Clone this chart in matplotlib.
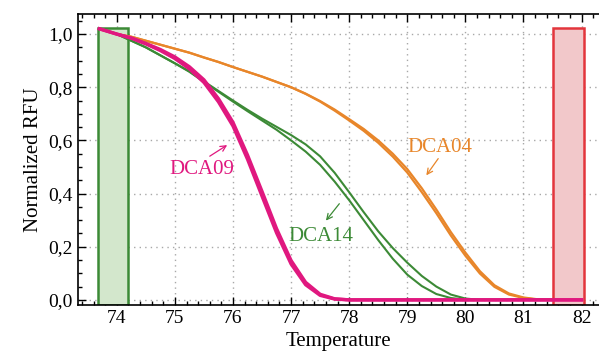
import matplotlib.pyplot as plt
import numpy as np

plt.rcParams['font.family'] = ['Liberation Serif', 'DejaVu Serif']

# temperature grid (deg C)
temp = [73.7, 74.0, 74.25, 74.5, 74.75, 75.0, 75.25, 75.5, 75.75, 76.0, 76.25, 76.5,
        76.75, 77.0, 77.25, 77.5, 77.75, 78.0, 78.25, 78.5, 78.75, 79.0, 79.25, 79.5,
        79.75, 80.0, 80.25, 80.5, 80.75, 81.0, 81.25, 81.5, 81.75, 82.0]

# DCA04 (two replicates)
dca04_a = [1.02, 1.0, 0.99, 0.975, 0.96, 0.945, 0.93, 0.912, 0.895, 0.876, 0.858, 0.84,
           0.82, 0.80, 0.776, 0.748, 0.716, 0.68, 0.643, 0.600, 0.550, 0.492, 0.42, 0.34,
           0.255, 0.178, 0.108, 0.055, 0.024, 0.009, 0.002, 0.0, 0.0, 0.0]
dca04_b = [1.02, 1.0, 0.99, 0.975, 0.96, 0.945, 0.93, 0.912, 0.895, 0.876, 0.858, 0.84,
           0.82, 0.80, 0.775, 0.746, 0.712, 0.675, 0.636, 0.591, 0.539, 0.479, 0.405, 0.326,
           0.242, 0.166, 0.099, 0.049, 0.02, 0.007, 0.001, 0.0, 0.0, 0.0]

# DCA14 (two replicates)
dca14_a = [1.02, 1.0, 0.975, 0.95, 0.92, 0.89, 0.86, 0.822, 0.786, 0.75, 0.715, 0.682,
           0.651, 0.62, 0.585, 0.54, 0.478, 0.405, 0.33, 0.258, 0.195, 0.14, 0.09, 0.05,
           0.02, 0.005, 0.0, 0.0, 0.0, 0.0, 0.0, 0.0, None, None]
dca14_b = [1.02, 1.0, 0.975, 0.95, 0.92, 0.89, 0.858, 0.82, 0.783, 0.746, 0.71, 0.675,
           0.64, 0.60, 0.558, 0.508, 0.445, 0.375, 0.30, 0.225, 0.155, 0.095, 0.052, 0.022,
           0.007, 0.001, 0.0, 0.0, 0.0, 0.0, 0.0, 0.0, None, None]

# DCA09 (two replicates)
dca09_a = [1.02, 1.0, 0.985, 0.965, 0.942, 0.914, 0.877, 0.828, 0.757, 0.668, 0.545, 0.408,
           0.268, 0.148, 0.066, 0.021, 0.004, 0.0, 0.0, 0.0, 0.0, 0.0, 0.0, 0.0,
           0.0, 0.0, 0.0, 0.0, 0.0, 0.0, 0.0, 0.0, 0.0, 0.0]
dca09_b = [1.02, 1.0, 0.985, 0.963, 0.938, 0.908, 0.869, 0.818, 0.745, 0.654, 0.529, 0.39,
           0.252, 0.135, 0.057, 0.017, 0.003, 0.0, 0.0, 0.0, 0.0, 0.0, 0.0, 0.0,
           0.0, 0.0, 0.0, 0.0, 0.0, 0.0, 0.0, 0.0, 0.0, 0.0]

orange = '#e8862a'
green = '#3c8a36'
pink = '#e0187f'

fig = plt.figure(figsize=(5.99, 3.63), dpi=100)
ax = fig.add_axes([0.130, 0.160, 0.870, 0.801])

def arr(v):
    return np.array([np.nan if a is None else a for a in v], dtype=float)

# shaded regions
top = (1.023 + 0.019) / (1.075 + 0.019)
ax.axvspan(73.68, 74.2, ymin=0, ymax=top,
           facecolor='#d3e7cc', edgecolor=green, lw=1.8, zorder=1)
ax.axvspan(81.5, 82.04, ymin=0, ymax=top,
           facecolor='#f2c8ca', edgecolor='#e3353c', lw=1.8, zorder=1)

ax.plot(temp, arr(dca09_a), color=pink, lw=2.4, zorder=4)
ax.plot(temp, arr(dca09_b), color=pink, lw=2.4, zorder=4)
ax.plot(temp, arr(dca14_a), color=green, lw=1.5, zorder=3)
ax.plot(temp, arr(dca14_b), color=green, lw=1.5, zorder=3)
ax.plot(temp, arr(dca04_a), color=orange, lw=1.6, zorder=2)
ax.plot(temp, arr(dca04_b), color=orange, lw=1.6, zorder=2)

fs = 15
ax.text(75.46, 0.49, 'DCA09', color=pink, fontsize=fs, ha='center', va='center')
ax.annotate('', xy=(75.94, 0.588), xytext=(75.56, 0.535),
            arrowprops=dict(arrowstyle='->', color=pink, lw=0.9))
ax.text(77.52, 0.24, 'DCA14', color=green, fontsize=fs, ha='center', va='center')
ax.annotate('', xy=(77.57, 0.29), xytext=(77.86, 0.37),
            arrowprops=dict(arrowstyle='->', color=green, lw=0.9))
ax.text(79.56, 0.575, 'DCA04', color=orange, fontsize=fs, ha='center', va='center')
ax.annotate('', xy=(79.30, 0.46), xytext=(79.56, 0.54),
            arrowprops=dict(arrowstyle='->', color=orange, lw=0.9))

ax.set_xlim(73.33, 82.3)
ax.set_ylim(-0.019, 1.075)
ax.set_xticks(range(74, 83))
ax.set_xticks(np.arange(73.4, 82.3, 0.2), minor=True)
ax.set_yticks(np.arange(0, 1.01, 0.2))
ax.set_yticks(np.arange(0, 1.06, 0.05), minor=True)
ax.set_yticklabels([f'{v:.1f}'.replace('.', ',') for v in np.arange(0, 1.01, 0.2)])
ax.tick_params(which='both', direction='in', top=True, right=False, labelsize=14, width=1)
ax.tick_params(which='major', length=6)
ax.tick_params(which='minor', length=3)
ax.spines['right'].set_visible(False)
for s in ['left', 'bottom', 'top']:
    ax.spines[s].set_linewidth(1.2)

ax.grid(True, which='major', color='#a8a8a8', linestyle=(0, (1, 3)), lw=1.0, zorder=0)
ax.set_axisbelow(True)

ax.set_xlabel('Temperature', fontsize=15)
ax.set_ylabel('Normalized RFU', fontsize=15)

fig.savefig('out.png', dpi=100)
